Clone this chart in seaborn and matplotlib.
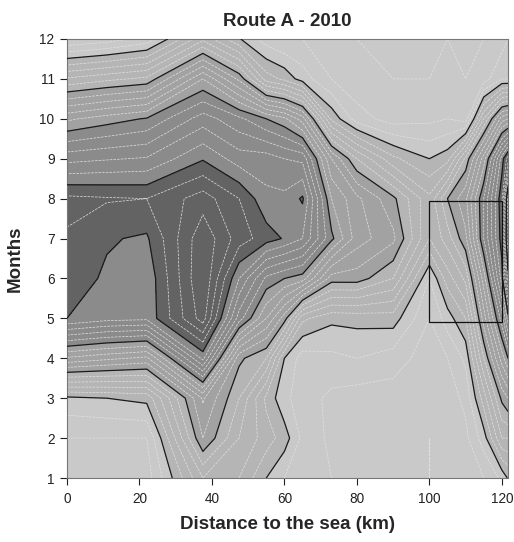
import numpy as np
import pandas as pd
import seaborn as sns
import matplotlib.pyplot as plt
from matplotlib.patches import Rectangle

# ---- data ----
distance = [0, 11, 22, 37.5, 47.5, 55, 60, 65, 73, 80, 90, 100, 105, 110, 115, 120, 121.7]
months = [1, 2, 3, 4, 5, 6, 7, 8, 9, 10, 11, 12]

# value profiles (month 1..12) at each distance
z_0 = [0.5, 0.6, 0.95, 2.57, 4.0, 4.1, 4.18, 4.25, 3.53, 2.76, 1.63, 0.4]
z_11 = [0.5, 0.6, 1.0, 2.45, 3.88, 3.97, 4.02, 4.22, 3.58, 2.9, 1.75, 0.5]
z_22 = [0.5, 0.6, 1.06, 2.35, 3.85, 3.85, 3.97, 4.2, 3.62, 3.02, 1.85, 0.67]
z_37 = [1.6, 2.2, 2.43, 3.86, 4.7, 4.8, 4.75, 4.5, 3.98, 3.5, 2.8, 1.55]
z_47 = [1.4, 1.6, 1.8, 2.05, 3.3, 3.8, 4.3, 4.2, 3.7, 3.25, 2.15, 1.02]
z_55 = [1.0, 1.3, 1.15, 1.8, 2.6, 3.15, 4.1, 3.85, 3.7, 3.0, 1.3, 0.7]
z_60 = [0.8, 1.1, 0.85, 1.0, 2.1, 3.0, 3.98, 3.85, 3.6, 2.85, 1.15, 0.6]
z_65 = [0.7, 0.75, 0.7, 0.7, 1.25, 2.9, 3.8, 4.03, 3.55, 2.5, 0.9, 0.6]
z_73 = [0.6, 0.55, 0.55, 0.75, 1.05, 2.1, 3.05, 2.8, 2.4, 1.15, 0.6, 0.5]
z_80 = [0.55, 0.5, 0.5, 0.8, 1.07, 2.1, 2.5, 2.45, 1.8, 0.7, 0.45, 0.4]
z_90 = [0.5, 0.5, 0.5, 0.7, 1.1, 1.8, 2.25, 2.05, 1.25, 0.5, 0.4, 0.4]
z_100 = [0.4, 0.4, 0.45, 0.5, 0.6, 0.8, 1.4, 1.45, 1.0, 0.55, 0.4, 0.4]
z_105 = [0.45, 0.45, 0.5, 0.6, 0.9, 1.3, 1.7, 2.0, 1.12, 0.6, 0.45, 0.4]
z_110 = [0.5, 0.55, 0.65, 0.85, 1.2, 1.65, 2.15, 2.35, 1.85, 0.5, 0.4, 0.35]
z_115 = [0.6, 0.9, 1.3, 1.8, 2.3, 2.7, 3.2, 3.2, 2.7, 1.6, 0.5, 0.4]
z_120 = [0.85, 1.6, 2.05, 2.7, 3.3, 3.9, 4.1, 4.15, 3.9, 2.5, 0.8, 0.5]
z_122 = [1.02, 1.6, 2.2, 3.0, 3.9, 4.9, 5.4, 5.3, 4.3, 2.6, 0.8, 0.6]

major_levels = [-1, 1, 2, 3, 4, 5, 6, 8]
band_colors = ['#c9c9c9', '#b5b5b5', '#a2a2a2', '#8b8b8b', '#636363', '#4b4b4b', '#383838']
box_x = [100, 120]
box_y = [4.92, 7.93]

columns = [z_0, z_11, z_22, z_37, z_47, z_55, z_60, z_65, z_73, z_80, z_90,
           z_100, z_105, z_110, z_115, z_120, z_122]
df = pd.DataFrame(np.array(columns).T, index=months, columns=distance)

sns.set_theme(style="ticks")
plt.rcParams['font.family'] = ['Liberation Sans', 'DejaVu Sans']

fig = plt.figure(figsize=(5.14, 5.42), dpi=100)
ax = fig.add_axes([67 / 514, 1 - 478 / 542, (508 - 67) / 514, (478 - 39) / 542])

X, Y = np.meshgrid(df.columns.values.astype(float), df.index.values.astype(float))
Z = df.values

ax.contourf(X, Y, Z, levels=major_levels, colors=band_colors, zorder=1)
minor = [v for v in np.round(np.arange(0.2, 7.0, 0.2), 2) if abs(v - round(v)) > 1e-6]
ax.contour(X, Y, Z, levels=minor, colors='#e2e2e2', linewidths=0.5,
           linestyles='--', zorder=2)
ax.contour(X, Y, Z, levels=major_levels[1:-1], colors='#1a1a1a', linewidths=0.9,
           linestyles='solid', zorder=3)

ax.add_patch(Rectangle((box_x[0], box_y[0]), box_x[1] - box_x[0], box_y[1] - box_y[0],
                       fill=False, edgecolor='#111111', linewidth=0.9,
                       linestyle='solid', zorder=5))

ax.set_xlim(0, 121.7)
ax.set_ylim(1, 12)
ax.set_xticks([0, 20, 40, 60, 80, 100, 120])
ax.set_yticks(months)
ax.tick_params(direction='out', length=5, width=0.8, labelsize=9.8, colors='#222222')
ax.tick_params(axis='x', pad=5)
ax.tick_params(axis='y', pad=4)
for s in ax.spines.values():
    s.set_color('#777777')
    s.set_linewidth(0.8)

ax.set_title('Route A - 2010', fontsize=13.5, fontweight='bold', pad=9)
ax.set_xlabel('Distance to the sea (km)', fontsize=13.5, fontweight='bold', labelpad=7)
ax.set_ylabel('Months', fontsize=13.5, fontweight='bold', labelpad=11)

fig.savefig('out.png', dpi=100)
